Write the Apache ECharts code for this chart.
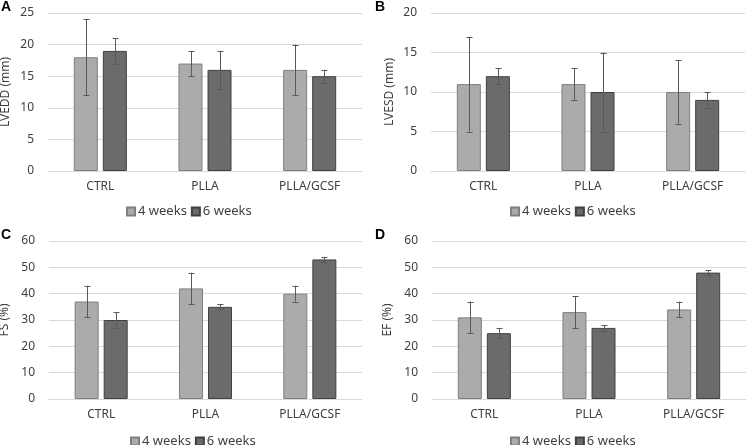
<!DOCTYPE html>
<html><head><meta charset="utf-8">
<script src="https://cdn.jsdelivr.net/npm/echarts@6/dist/echarts.min.js"></script>
<style>html,body{margin:0;padding:0;background:#fff}#c{width:746px;height:445px}</style>
</head><body><div id="c"></div>
<script>
var categories = ['CTRL', 'PLLA', 'PLLA/GCSF'];
var seriesNames = ['4 weeks', '6 weeks'];

// Panel A: LVEDD (mm)
var lveddW4 = [18, 17, 16];
var lveddW4Err = [[12, 24], [15, 19], [12, 20]];
var lveddW6 = [19, 16, 15];
var lveddW6Err = [[17, 21], [13, 19], [14, 16]];

// Panel B: LVESD (mm)
var lvesdW4 = [11, 11, 10];
var lvesdW4Err = [[5, 17], [9, 13], [6, 14]];
var lvesdW6 = [12, 10, 9];
var lvesdW6Err = [[11, 13], [5, 15], [8, 10]];

// Panel C: FS (%)
var fsW4 = [37, 42, 40];
var fsW4Err = [[31, 43], [36, 48], [37, 43]];
var fsW6 = [30, 35, 53];
var fsW6Err = [[27, 33], [34, 36], [52, 54]];

// Panel D: EF (%)
var efW4 = [31, 33, 34];
var efW4Err = [[25, 37], [27, 39], [31, 37]];
var efW6 = [25, 27, 48];
var efW6Err = [[23, 27], [26, 28], [47, 49]];

var panels = [
  {label: 'A', yName: 'LVEDD (mm)', max: 25, interval: 5, w4: lveddW4, w4e: lveddW4Err, w6: lveddW6, w6e: lveddW6Err},
  {label: 'B', yName: 'LVESD (mm)', max: 20, interval: 5, w4: lvesdW4, w4e: lvesdW4Err, w6: lvesdW6, w6e: lvesdW6Err},
  {label: 'C', yName: 'FS (%)', max: 60, interval: 10, w4: fsW4, w4e: fsW4Err, w6: fsW6, w6e: fsW6Err},
  {label: 'D', yName: 'EF (%)', max: 60, interval: 10, w4: efW4, w4e: efW4Err, w6: efW6, w6e: efW6Err}
];

var layout = [
  {grid: {left: 48, top: 13, width: 314, height: 158}, gap: 36, title: {left: 1, top: 0}, legend: {left: 126, top: 205}},
  {grid: {left: 431, top: 13, width: 314, height: 158}, gap: 35, title: {left: 375, top: 0}, legend: {left: 510, top: 205}},
  {grid: {left: 49, top: 241, width: 313, height: 158}, gap: 38, title: {left: 1, top: 228}, legend: {left: 130, top: 435}},
  {grid: {left: 432, top: 241, width: 314, height: 158}, gap: 38, title: {left: 375, top: 228}, legend: {left: 510, top: 435}}
];

var FONT = 'Noto Sans';
var lightFill = '#ababab', lightBorder = '#7f7f7f';
var darkFill = '#6b6b6b', darkBorder = '#404040';
var errColor = '#595959';

function errSeries(name, data, gi, offset) {
  return {
    type: 'custom', name: name, xAxisIndex: gi, yAxisIndex: gi, z: 5,
    data: data.map(function (d, i) { return [i, d[0], d[1]]; }),
    renderItem: function (params, api) {
      var lo = api.coord([api.value(0), api.value(1)]);
      var hi = api.coord([api.value(0), api.value(2)]);
      var x = Math.round(lo[0] + offset) + 0.5;
      var cw = 3;
      var st = {stroke: errColor, lineWidth: 1};
      return {type: 'group', children: [
        {type: 'line', shape: {x1: x, y1: lo[1], x2: x, y2: hi[1]}, style: st},
        {type: 'line', shape: {x1: x - cw, y1: Math.round(lo[1]) + 0.5, x2: x + cw, y2: Math.round(lo[1]) + 0.5}, style: st},
        {type: 'line', shape: {x1: x - cw, y1: Math.round(hi[1]) + 0.5, x2: x + cw, y2: Math.round(hi[1]) + 0.5}, style: st}
      ]};
    },
    tooltip: {show: false}
  };
}

var option = {
  animation: false,
  backgroundColor: '#fff',
  title: [], grid: [], xAxis: [], yAxis: [], legend: [], series: []
};

panels.forEach(function (p, gi) {
  var L = layout[gi];
  var g = Object.assign({outerBoundsMode: 'none', containLabel: false}, L.grid);
  option.title.push({text: p.label, left: L.title.left, top: L.title.top, padding: 0,
    textStyle: {fontFamily: 'Liberation Sans', fontWeight: 'bold', fontSize: 14, color: '#000'}});
  option.grid.push(g);
  option.xAxis.push({type: 'category', gridIndex: gi, data: categories,
    axisLine: {lineStyle: {color: '#d9d9d9'}}, axisTick: {show: false},
    axisLabel: {color: '#404040', fontFamily: FONT, fontSize: 12, margin: 10}});
  option.yAxis.push({type: 'value', gridIndex: gi, min: 0, max: p.max, interval: p.interval,
    name: p.yName, nameLocation: 'middle', nameGap: L.gap, nameRotate: 90, nameMoveOverlap: false,
    nameTextStyle: {color: '#404040', fontFamily: FONT, fontSize: 12},
    axisLine: {show: false}, axisTick: {show: false},
    axisLabel: {color: '#404040', fontFamily: FONT, fontSize: 12, margin: 14},
    splitLine: {lineStyle: {color: '#d9d9d9', width: 1}}});
  option.legend.push({data: seriesNames, left: L.legend.left, top: L.legend.top, padding: 0,
    icon: 'rect', itemWidth: 8, itemHeight: 8, itemGap: 4,
    textStyle: {color: '#404040', fontFamily: FONT, fontSize: 13, padding: [0, 0, 0, -2]}});
  option.series.push({type: 'bar', name: seriesNames[0], xAxisIndex: gi, yAxisIndex: gi,
    data: p.w4, barWidth: 24, barGap: '21%',
    itemStyle: {color: lightFill, borderColor: lightBorder, borderWidth: 1}});
  option.series.push({type: 'bar', name: seriesNames[1], xAxisIndex: gi, yAxisIndex: gi,
    data: p.w6, barWidth: 24, barGap: '21%',
    itemStyle: {color: darkFill, borderColor: darkBorder, borderWidth: 1}});
  option.series.push(errSeries(seriesNames[0], p.w4e, gi, -14.5));
  option.series.push(errSeries(seriesNames[1], p.w6e, gi, 14.5));
});

var chart = echarts.init(document.getElementById('c'), null, {renderer: 'canvas'});
chart.setOption(option);
</script>
</body></html>
